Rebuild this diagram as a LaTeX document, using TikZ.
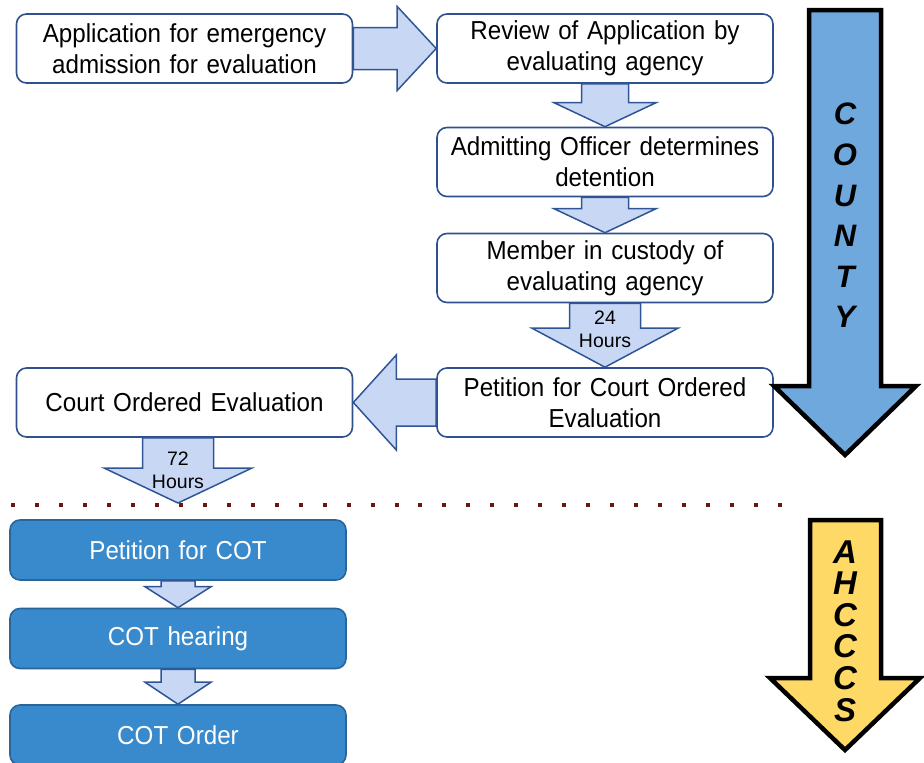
\documentclass[tikz,border=0pt]{standalone}
\usepackage{fontspec}
\setmainfont{Liberation Sans}[FakeStretch=0.93, WordSpace=0.8]
\newfontfamily\plainsans{Liberation Sans}
\usetikzlibrary{calc}

\definecolor{boxedge}{RGB}{47,82,143}
\definecolor{flowfill}{RGB}{200,216,244}
\definecolor{flowedge}{RGB}{47,85,151}
\definecolor{cotblue}{RGB}{56,138,204}
\definecolor{cotedge}{RGB}{41,100,155}
\definecolor{countyblue}{RGB}{111,168,220}
\definecolor{ahcccsgold}{RGB}{255,217,102}
\definecolor{divred}{RGB}{110,22,12}

\newcommand{\stagefont}{\fontsize{26}{31}\selectfont}
\newcommand{\hourfont}{\plainsans\fontsize{19.5}{23}\selectfont}
\newcommand{\bandfont}{\plainsans\bfseries\itshape\fontsize{31}{40.6}\selectfont}

\tikzset{
  stagebox/.style={draw=boxedge, line width=1.6pt, rounded corners=10pt, fill=white,
    minimum width=336pt, minimum height=69pt, text width=330pt, align=center,
    inner sep=0pt, font=\stagefont},
  cotbox/.style={stagebox, fill=cotblue, draw=cotedge, text=white, minimum height=60pt},
  flowarrow/.style={draw=flowedge, fill=flowfill, line width=1.5pt, line join=miter},
  hourtext/.style={align=center, inner sep=0pt, font=\hourfont},
  bigarrow/.style={draw=black, line width=4.5pt, line join=miter},
  bandtext/.style={align=center, inner sep=0pt, font=\bandfont},
  divider/.style={draw=divred, line width=4.5pt, dash pattern=on 4pt off 19.97pt}
}

% block arrow: from, to, shaft half width, head half width, head length
\newcommand{\vflow}[5]{%
  \draw[flowarrow] let \p1=(#1), \p2=(#2), \p3=($(#2)!#5pt!(#1)$) in
    (\x1-#3pt,\y1) -- (\x1-#3pt,\y3) -- (\x1-#4pt,\y3) -- (\x1,\y2)
    -- (\x1+#4pt,\y3) -- (\x1+#3pt,\y3) -- (\x1+#3pt,\y1) -- cycle;}
\newcommand{\hflow}[5]{%
  \draw[flowarrow] let \p1=(#1), \p2=(#2), \p3=($(#2)!#5pt!(#1)$) in
    (\x1,\y1+#3pt) -- (\x3,\y1+#3pt) -- (\x3,\y1+#4pt) -- (\x2,\y1)
    -- (\x3,\y1-#4pt) -- (\x3,\y1-#3pt) -- (\x1,\y1-#3pt) -- cycle;}

\begin{document}
\begin{tikzpicture}[x=1pt, y=-1pt]
  \useasboundingbox (0,0) rectangle (924,763);

  % county steps
  \node[stagebox] (appl)     at (184.5,48.5) {Application for emergency\\admission for evaluation};
  \node[stagebox] (review)   at (605,48.5)   {Review of Application by\\evaluating agency};
  \node[stagebox] (admit)    at (605,162)    {Admitting Officer determines\\detention};
  \node[stagebox] (custody)  at (605,268)    {Member in custody of\\evaluating agency};
  \node[stagebox] (petition) at (605,402.5)  {Petition for Court Ordered\\Evaluation};
  \node[stagebox] (court)    at (184.5,402.5) {Court Ordered Evaluation};

  % AHCCCS steps
  \node[cotbox] (cotpet)   at (178,550)   {Petition for COT};
  \node[cotbox] (cothear)  at (178,638.5) {COT hearing};
  \node[cotbox] (cotorder) at (178,735)   {COT Order};

  % divider
  \coordinate (divl) at (11,505);
  \coordinate (divr) at (783,505);
  \draw[divider] (divl) -- (divr);
  \coordinate (evalout) at (cotpet.north |- court.south);
  \coordinate (evalin)  at ($(cotpet.north |- divl)+(0,-2)$);

  % Relations
  \hflow{appl.east}{review.west}{21}{42}{39}
  \vflow{review.south}{admit.north}{23.5}{51}{24}
  \vflow{admit.south}{custody.north}{23.5}{51}{24}
  \vflow{custody.south}{petition.north}{35.5}{73}{39}
  \hflow{petition.west}{court.east}{23.5}{47.5}{43}
  \vflow{evalout}{evalin}{35.5}{74}{35}
  \vflow{cotpet.south}{cothear.north}{17}{33}{21}
  \vflow{cothear.south}{cotorder.north}{17}{33}{22}
  \node[hourtext] (h24) at ($(custody.south)!0.4!(petition.north)$) {24\\Hours};
  \node[hourtext] (h72) at ($(evalout)!0.5!(evalin)$) {72\\Hours};

  % side bands
  \draw[bigarrow, fill=countyblue] (809,10) -- (881,10) -- (881,386) -- (916,386)
    -- (845,455) -- (774,386) -- (809,386) -- cycle;
  \node[bandtext] (county) at (845,215.5) {C\\O\\U\\N\\T\\Y};
  \draw[bigarrow, fill=ahcccsgold] (810,520) -- (881,520) -- (881,678) -- (920,678)
    -- (845,750) -- (770,678) -- (810,678) -- cycle;
  \node[bandtext, font=\plainsans\bfseries\itshape\fontsize{33}{31.6}\selectfont] (ahcccs) at (845,631) {A\\H\\C\\C\\C\\S};
\end{tikzpicture}
\end{document}
